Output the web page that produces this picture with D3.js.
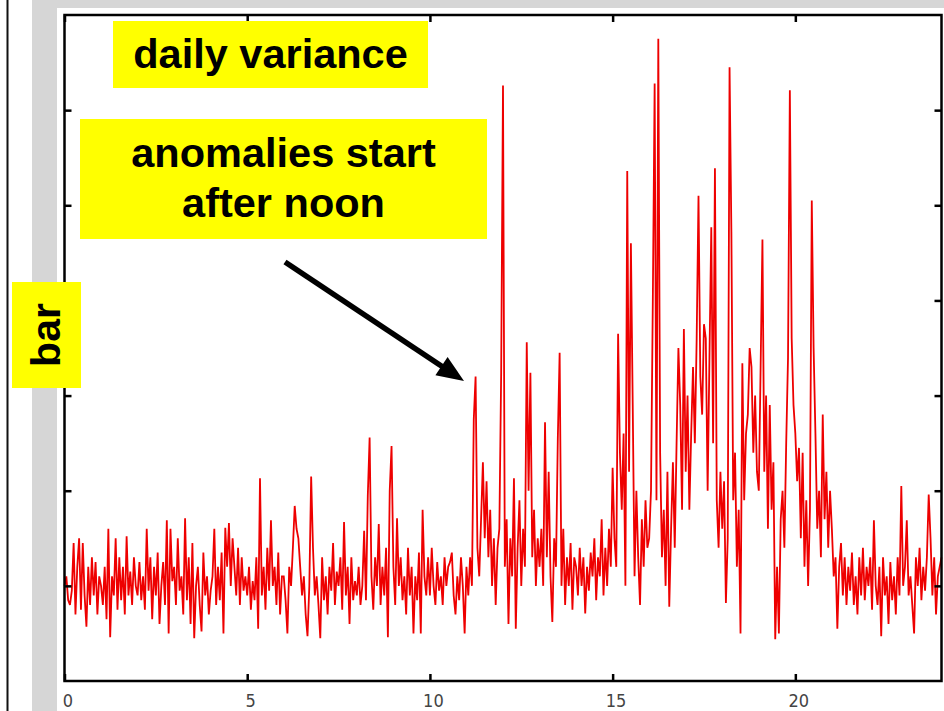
<!DOCTYPE html>
<html>
<head>
<meta charset="utf-8">
<script src="https://cdn.jsdelivr.net/npm/d3@7/dist/d3.min.js"></script>
<style>
  html, body { margin: 0; padding: 0; background: #fff; }
  svg { display: block; }
</style>
</head>
<body>
<svg id="chart" width="944" height="711"></svg>
<script>
// ---- data (hourly blocks of 20 samples, 3-minute step) ----
const hoursNight = [ // 0h – 6h
  [1.0,1.1,0.85,0.8,0.95,1.45,0.7,1.2,1.5,0.75,1.45,0.9,0.57,1.2,0.8,1.3,0.9,1.25,0.7,1.1],
  [1.0,0.8,1.2,0.65,1.6,0.46,1.1,0.9,1.5,0.75,1.3,0.85,1.2,0.7,1.52,0.9,1.15,0.8,1.3,1.0],
  [0.9,1.25,0.85,1.1,0.75,1.6,0.95,1.3,0.65,1.2,0.9,1.35,0.6,1.0,1.25,0.8,1.69,0.5,1.6,1.05],
  [1.2,0.8,1.5,0.95,1.1,0.7,1.71,0.85,1.3,0.6,1.45,0.45,1.0,1.2,0.8,0.52,1.35,0.9,1.1,0.7],
  [0.95,1.1,1.6,0.8,1.2,0.85,1.35,0.5,1.61,1.2,1.66,1.0,1.5,1.2,0.9,1.4,0.8,1.3,0.95,1.1],
  [0.9,1.2,0.75,1.05,0.85,1.3,0.55,2.13,0.9,1.2,0.75,1.4,0.95,1.69,1.0,1.2,0.8,1.35,0.7,1.1]
];
const hoursMorning = [ // 6h – 12h
  [1.1,0.85,0.5,1.2,1.0,1.4,1.84,1.6,1.5,1.2,0.9,1.1,0.7,0.47,1.0,2.15,1.4,0.9,1.1,0.8],
  [0.45,1.3,0.85,1.1,0.7,1.2,0.95,1.45,0.8,1.15,1.0,1.3,0.75,1.67,0.9,1.2,0.6,1.3,0.85,1.05],
  [0.9,1.2,0.8,1.0,1.58,0.85,1.95,2.56,1.1,0.75,1.3,1.0,1.65,0.8,1.2,0.9,1.4,0.46,2.0,2.47],
  [1.2,0.8,1.71,1.0,1.3,0.85,1.1,0.7,1.4,0.9,1.2,0.5,1.1,0.85,1.35,0.5,1.8,1.1,0.9,1.3],
  [0.9,1.4,1.0,0.8,1.25,0.95,1.1,0.8,1.3,1.0,1.2,1.25,1.35,0.9,0.7,1.1,0.85,1.3,1.0,0.5],
  [1.2,0.9,1.3,1.0,2.75,3.2,1.4,1.1,1.7,2.3,1.5,2.1,1.3,1.8,1.0,1.5,0.8,1.4,1.6,3.24]
];
const hoursAfternoon = [ // 12h – 18h
  [6.26,1.2,1.7,0.6,1.5,1.1,2.13,0.55,1.4,1.9,1.0,1.6,1.2,3.56,2.0,3.24,1.3,1.8,1.0,1.5],
  [1.2,1.6,1.0,2.72,1.3,2.2,1.1,0.62,1.5,1.2,2.55,3.45,1.0,1.6,0.8,1.3,1.0,1.45,0.75,1.3],
  [1.2,0.9,1.4,1.0,1.3,0.71,1.2,0.95,1.35,1.1,1.5,0.85,1.3,1.1,1.7,0.9,1.4,1.0,1.6,1.2],
  [2.24,1.5,1.2,3.65,2.4,1.8,2.6,1.0,5.36,2.2,4.6,2.9,1.1,2.0,1.3,0.8,1.7,1.2,1.9,1.4],
  [1.5,2.0,4.0,6.28,1.9,6.75,2.4,1.3,1.8,1.0,2.2,0.78,1.6,2.3,1.4,2.5,3.5,2.9,1.8,3.7],
  [2.2,3.0,1.8,2.6,3.3,2.5,3.6,5.1,3.2,2.8,3.75,3.6,2.0,3.4,4.77,2.5,5.39,1.9,1.4,2.2]
];
const hoursEvening = [ // 18h – 24h
  [1.6,2.1,0.82,1.5,6.45,4.72,1.9,2.4,1.2,1.8,0.5,3.34,1.9,2.6,2.8,3.5,3.3,2.4,3.0,2.2],
  [2.0,3.3,4.64,2.2,3.0,1.6,2.9,1.8,2.3,0.44,1.2,0.5,1.7,2.0,1.4,2.5,3.4,6.21,3.6,2.9],
  [2.6,2.1,2.45,1.5,2.4,1.2,1.9,1.0,1.8,5.05,3.5,2.6,1.6,2.0,1.3,2.8,1.7,2.2,1.4,2.0],
  [1.6,1.1,1.3,0.55,1.2,1.45,0.9,1.3,0.8,1.2,0.95,1.35,0.8,1.1,0.7,1.3,0.9,1.4,0.85,1.2],
  [1.0,1.3,0.75,1.69,1.0,0.8,1.2,0.47,1.3,0.9,1.1,0.6,1.25,0.85,1.1,0.7,1.3,0.9,2.05,1.0],
  [1.2,1.69,0.9,1.1,0.8,0.5,1.3,1.0,1.4,0.85,1.2,0.95,1.3,1.96,1.5,0.9,1.3,0.7,1.1,1.2,1.3]
];
const xTickValues = [0, 5, 10, 15, 20];
const xTickLabels = ["0", "5", "10", "15", "20"];
const yTickValues = [1, 2, 3, 4, 5, 6];
const titleText = "daily variance";
const noteLines = ["anomalies start", "after noon"];
const yLabelText = "bar";

// ---- build samples ----
const blocks = [].concat(hoursNight, hoursMorning, hoursAfternoon, hoursEvening);
const samples = [];
blocks.forEach((vals, h) => {
  vals.forEach((v, i) => samples.push({ t: h + i / 20, v: v }));
});

const svg = d3.select("#chart");
const W = 944, H = 711;

// page backgrounds
svg.append("rect").attr("x", 0).attr("y", 0).attr("width", W).attr("height", H).attr("fill", "#ffffff");
svg.append("rect").attr("x", 32).attr("y", 0).attr("width", 25).attr("height", H).attr("fill", "#d6d6d6");
svg.append("rect").attr("x", 32).attr("y", 0).attr("width", W - 32).attr("height", 8).attr("fill", "#d6d6d6");
svg.append("line").attr("x1", 7.5).attr("x2", 7.5).attr("y1", 0).attr("y2", H)
  .attr("stroke", "#111").attr("stroke-width", 2);

// scales
const x = d3.scaleLinear().domain([0, 24]).range([64.5, 941.5]);
const y = d3.scaleLinear().domain([0, 7]).range([681, 15]);

// data line
const line = d3.line().x(d => x(d.t)).y(d => y(d.v));
svg.append("path").datum(samples)
  .attr("d", line)
  .attr("fill", "none")
  .attr("stroke", "#ee0000")
  .attr("stroke-width", 1.8)
  .attr("stroke-linejoin", "miter")
  .attr("stroke-miterlimit", 4);

// axes (ticks inward on all four sides)
const tickLen = 7;
const axB = svg.append("g").attr("transform", `translate(0,${y(0)})`)
  .call(d3.axisBottom(x).tickValues(xTickValues).tickSize(-tickLen).tickFormat(""));
const axT = svg.append("g").attr("transform", `translate(0,${y(7)})`)
  .call(d3.axisTop(x).tickValues(xTickValues).tickSize(-tickLen).tickFormat(""));
const axL = svg.append("g").attr("transform", `translate(${x(0)},0)`)
  .call(d3.axisLeft(y).tickValues(yTickValues).tickSize(-tickLen).tickFormat(""));
const axR = svg.append("g").attr("transform", `translate(${x(24)},0)`)
  .call(d3.axisRight(y).tickValues(yTickValues).tickSize(-tickLen).tickFormat(""));
[axB, axT, axL, axR].forEach(g => {
  g.select(".domain").remove();
  g.selectAll(".tick line").attr("stroke", "#000").attr("stroke-width", 2.5);
});

// frame
svg.append("rect")
  .attr("x", x(0)).attr("y", y(7))
  .attr("width", x(24) - x(0)).attr("height", y(0) - y(7))
  .attr("fill", "none").attr("stroke", "#000").attr("stroke-width", 2.5);

// x tick labels
svg.append("g").selectAll("text").data(xTickValues).join("text")
  .attr("x", d => x(d) + 3.5)
  .attr("y", 707)
  .attr("text-anchor", "middle")
  .attr("font-family", "'Liberation Sans Narrow', 'DejaVu Sans Condensed', 'Liberation Sans', sans-serif")
  .attr("font-stretch", "condensed")
  .attr("font-size", 18)
  .attr("fill", "#444")
  .text((d, i) => xTickLabels[i]);

// annotation boxes
const bold = "'Liberation Sans', Arial, sans-serif";
svg.append("rect").attr("x", 113).attr("y", 21).attr("width", 315).attr("height", 67).attr("fill", "#ffff00");
svg.append("text").attr("x", 270.5).attr("y", 68).attr("text-anchor", "middle")
  .attr("font-family", bold).attr("font-weight", "bold").attr("font-size", 41.5).attr("fill", "#000")
  .text(titleText);

svg.append("rect").attr("x", 80).attr("y", 119).attr("width", 407).attr("height", 120).attr("fill", "#ffff00");
svg.append("g").selectAll("text").data(noteLines).join("text")
  .attr("x", 283.5).attr("y", (d, i) => 167 + i * 50).attr("text-anchor", "middle")
  .attr("font-family", bold).attr("font-weight", "bold").attr("font-size", 41.5).attr("fill", "#000")
  .text(d => d);

svg.append("rect").attr("x", 12).attr("y", 282).attr("width", 69).attr("height", 106).attr("fill", "#ffff00");
svg.append("text").attr("transform", "translate(60,335) rotate(-90)").attr("text-anchor", "middle")
  .attr("font-family", bold).attr("font-weight", "bold").attr("font-size", 41).attr("fill", "#000")
  .text(yLabelText);

// arrow
const ax0 = 285, ay0 = 262, ax1 = 464, ay1 = 381;
const ang = Math.atan2(ay1 - ay0, ax1 - ax0);
const headLen = 27, headHalf = 11;
const bx = ax1 - headLen * Math.cos(ang), by = ay1 - headLen * Math.sin(ang);
svg.append("line").attr("x1", ax0).attr("y1", ay0).attr("x2", bx + 3 * Math.cos(ang)).attr("y2", by + 3 * Math.sin(ang))
  .attr("stroke", "#000").attr("stroke-width", 5.5);
svg.append("path")
  .attr("d", `M${ax1},${ay1}L${bx - headHalf * Math.sin(ang)},${by + headHalf * Math.cos(ang)}L${bx + headHalf * Math.sin(ang)},${by - headHalf * Math.cos(ang)}Z`)
  .attr("fill", "#000");
</script>
</body>
</html>
